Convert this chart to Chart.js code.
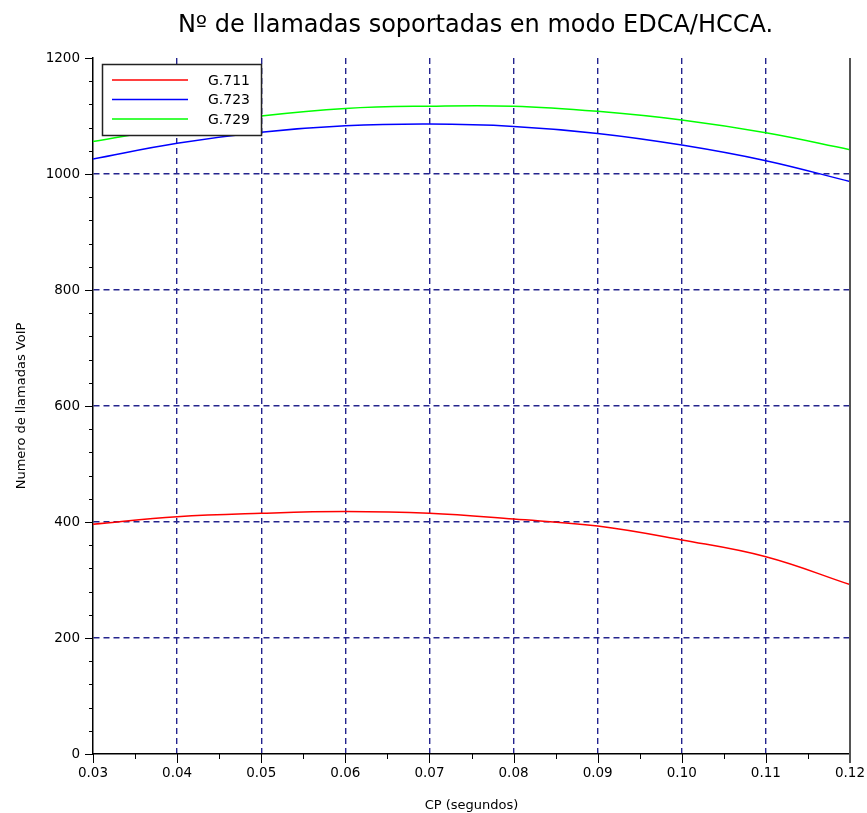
<!DOCTYPE html>
<html>
<head>
<meta charset="utf-8">
<script src="https://cdn.jsdelivr.net/npm/chart.js@4.4.1/dist/chart.umd.min.js"></script>
<style>
  html, body { margin: 0; padding: 0; background: #fff; }
  #wrap { width: 867px; height: 813px; position: relative; }
</style>
</head>
<body>
<div id="wrap"><canvas id="chart" width="867" height="813"></canvas></div>
<script>
let title = 'Nº de llamadas soportadas en modo EDCA/HCCA.';
let labels = ['G.711', 'G.723', 'G.729'];
let colors = ['#ff0000', '#0000ff', '#00ff00'];
let cp = [0.03, 0.04, 0.05, 0.06, 0.07, 0.08, 0.09, 0.10, 0.11, 0.12];
let g711 = [396, 409, 415, 418, 415, 405, 393, 369, 340, 292];
let g723 = [1026, 1053, 1072, 1083, 1086, 1082, 1070, 1050, 1023, 987];
let g729 = [1056, 1080, 1100, 1113, 1117, 1117, 1108, 1093, 1071, 1042];
let series = [g711, g723, g729];

let font = 'DejaVu Sans';
let gridColor = '#24248e';

// ticks, right border, legend box and title drawn on top of the chart
let extras = {
    id: 'extras',
    afterDraw(chart) {
        let c = chart.ctx;
        let a = chart.chartArea;
        let x = chart.scales.x;
        let y = chart.scales.y;
        c.save();
        c.strokeStyle = '#000';
        c.lineWidth = 1;
        c.beginPath();
        for (let v = 0; v <= 1200; v += 40) {
            let py = Math.round(y.getPixelForValue(v)) + 0.5;
            let len = v % 200 === 0 ? 8 : 4;
            c.moveTo(a.left - len, py);
            c.lineTo(a.left, py);
        }
        for (let i = 0; i <= 18; i++) {
            let v = 0.03 + i * 0.005;
            let px = Math.round(x.getPixelForValue(v)) + 0.5;
            let len = i % 2 === 0 ? 9 : 5;
            c.moveTo(px, a.bottom);
            c.lineTo(px, a.bottom + len);
        }
        c.moveTo(a.left + 0.5, a.bottom);
        c.lineTo(a.left + 0.5, a.bottom + 9);
        c.stroke();

        c.strokeStyle = '#555';
        c.lineWidth = 2;
        c.beginPath();
        c.moveTo(a.right, a.top);
        c.lineTo(a.right, a.bottom + 9);
        c.stroke();

        // legend
        c.fillStyle = '#fff';
        c.fillRect(102, 64, 160, 72);
        c.strokeStyle = '#222';
        c.lineWidth = 1.5;
        c.strokeRect(102.5, 64.5, 159, 71);
        c.font = '14px "' + font + '"';
        c.textBaseline = 'middle';
        c.textAlign = 'left';
        chart.data.datasets.forEach((ds, i) => {
            let ly = 80 + i * 19.5;
            c.strokeStyle = ds.borderColor;
            c.lineWidth = 1.5;
            c.beginPath();
            c.moveTo(112, ly);
            c.lineTo(188, ly);
            c.stroke();
            c.fillStyle = '#000';
            c.fillText(ds.label, 208, ly + 1);
        });

        // title
        c.font = '24px "' + font + '"';
        c.textAlign = 'center';
        c.fillStyle = '#000';
        c.fillText(title, (a.left + a.right) / 2 + 4, 26);
        c.restore();
    }
};

new Chart(document.getElementById('chart'), {
    type: 'line',
    data: {
        datasets: series.map((s, i) => ({
            label: labels[i],
            data: s.map((v, j) => ({ x: cp[j], y: v })),
            borderColor: colors[i],
            backgroundColor: colors[i],
            borderWidth: 1.5,
            pointRadius: 0,
            tension: 0.4,
            fill: false
        }))
    },
    plugins: [extras],
    options: {
        responsive: false,
        animation: false,
        layout: { padding: { top: 58, right: 17, left: 0, bottom: 0 } },
        plugins: {
            legend: { display: false },
            title: { display: false },
            tooltip: { enabled: false }
        },
        scales: {
            x: {
                type: 'linear',
                min: 0.03,
                max: 0.12,
                afterFit(s) { s.height = 59; s.paddingLeft = 0; s.paddingRight = 0; },
                ticks: {
                    stepSize: 0.01,
                    padding: 11,
                    color: '#000',
                    font: { family: font, size: 13.5 },
                    callback: v => v.toFixed(2),
                    maxRotation: 0
                },
                grid: {
                    drawTicks: false,
                    color: ctx => (ctx.tick && (Math.abs(ctx.tick.value - 0.03) < 1e-6 || Math.abs(ctx.tick.value - 0.12) < 1e-6)) ? 'rgba(0,0,0,0)' : gridColor,
                    lineWidth: 1.4
                },
                border: { display: true, color: '#000', width: 1.5, dash: [6, 4] },
                title: {
                    display: true,
                    text: 'CP (segundos)',
                    color: '#000',
                    font: { family: font, size: 13 },
                    padding: { top: 2, bottom: 0 }
                }
            },
            y: {
                min: 0,
                max: 1200,
                afterFit(s) { s.width = 93; },
                ticks: {
                    stepSize: 200,
                    padding: 13,
                    color: '#000',
                    font: { family: font, size: 13.5 },
                    callback: v => String(v)
                },
                grid: {
                    drawTicks: false,
                    color: ctx => (ctx.tick && (ctx.tick.value === 0 || ctx.tick.value === 1200)) ? 'rgba(0,0,0,0)' : gridColor,
                    lineWidth: 1.4
                },
                border: { display: true, color: '#000', width: 1.5, dash: [6, 4] },
                title: {
                    display: true,
                    text: 'Numero de llamadas VoIP',
                    color: '#000',
                    font: { family: font, size: 13 },
                    padding: { top: 14, bottom: 0 }
                }
            }
        }
    }
});
</script>
</body>
</html>
